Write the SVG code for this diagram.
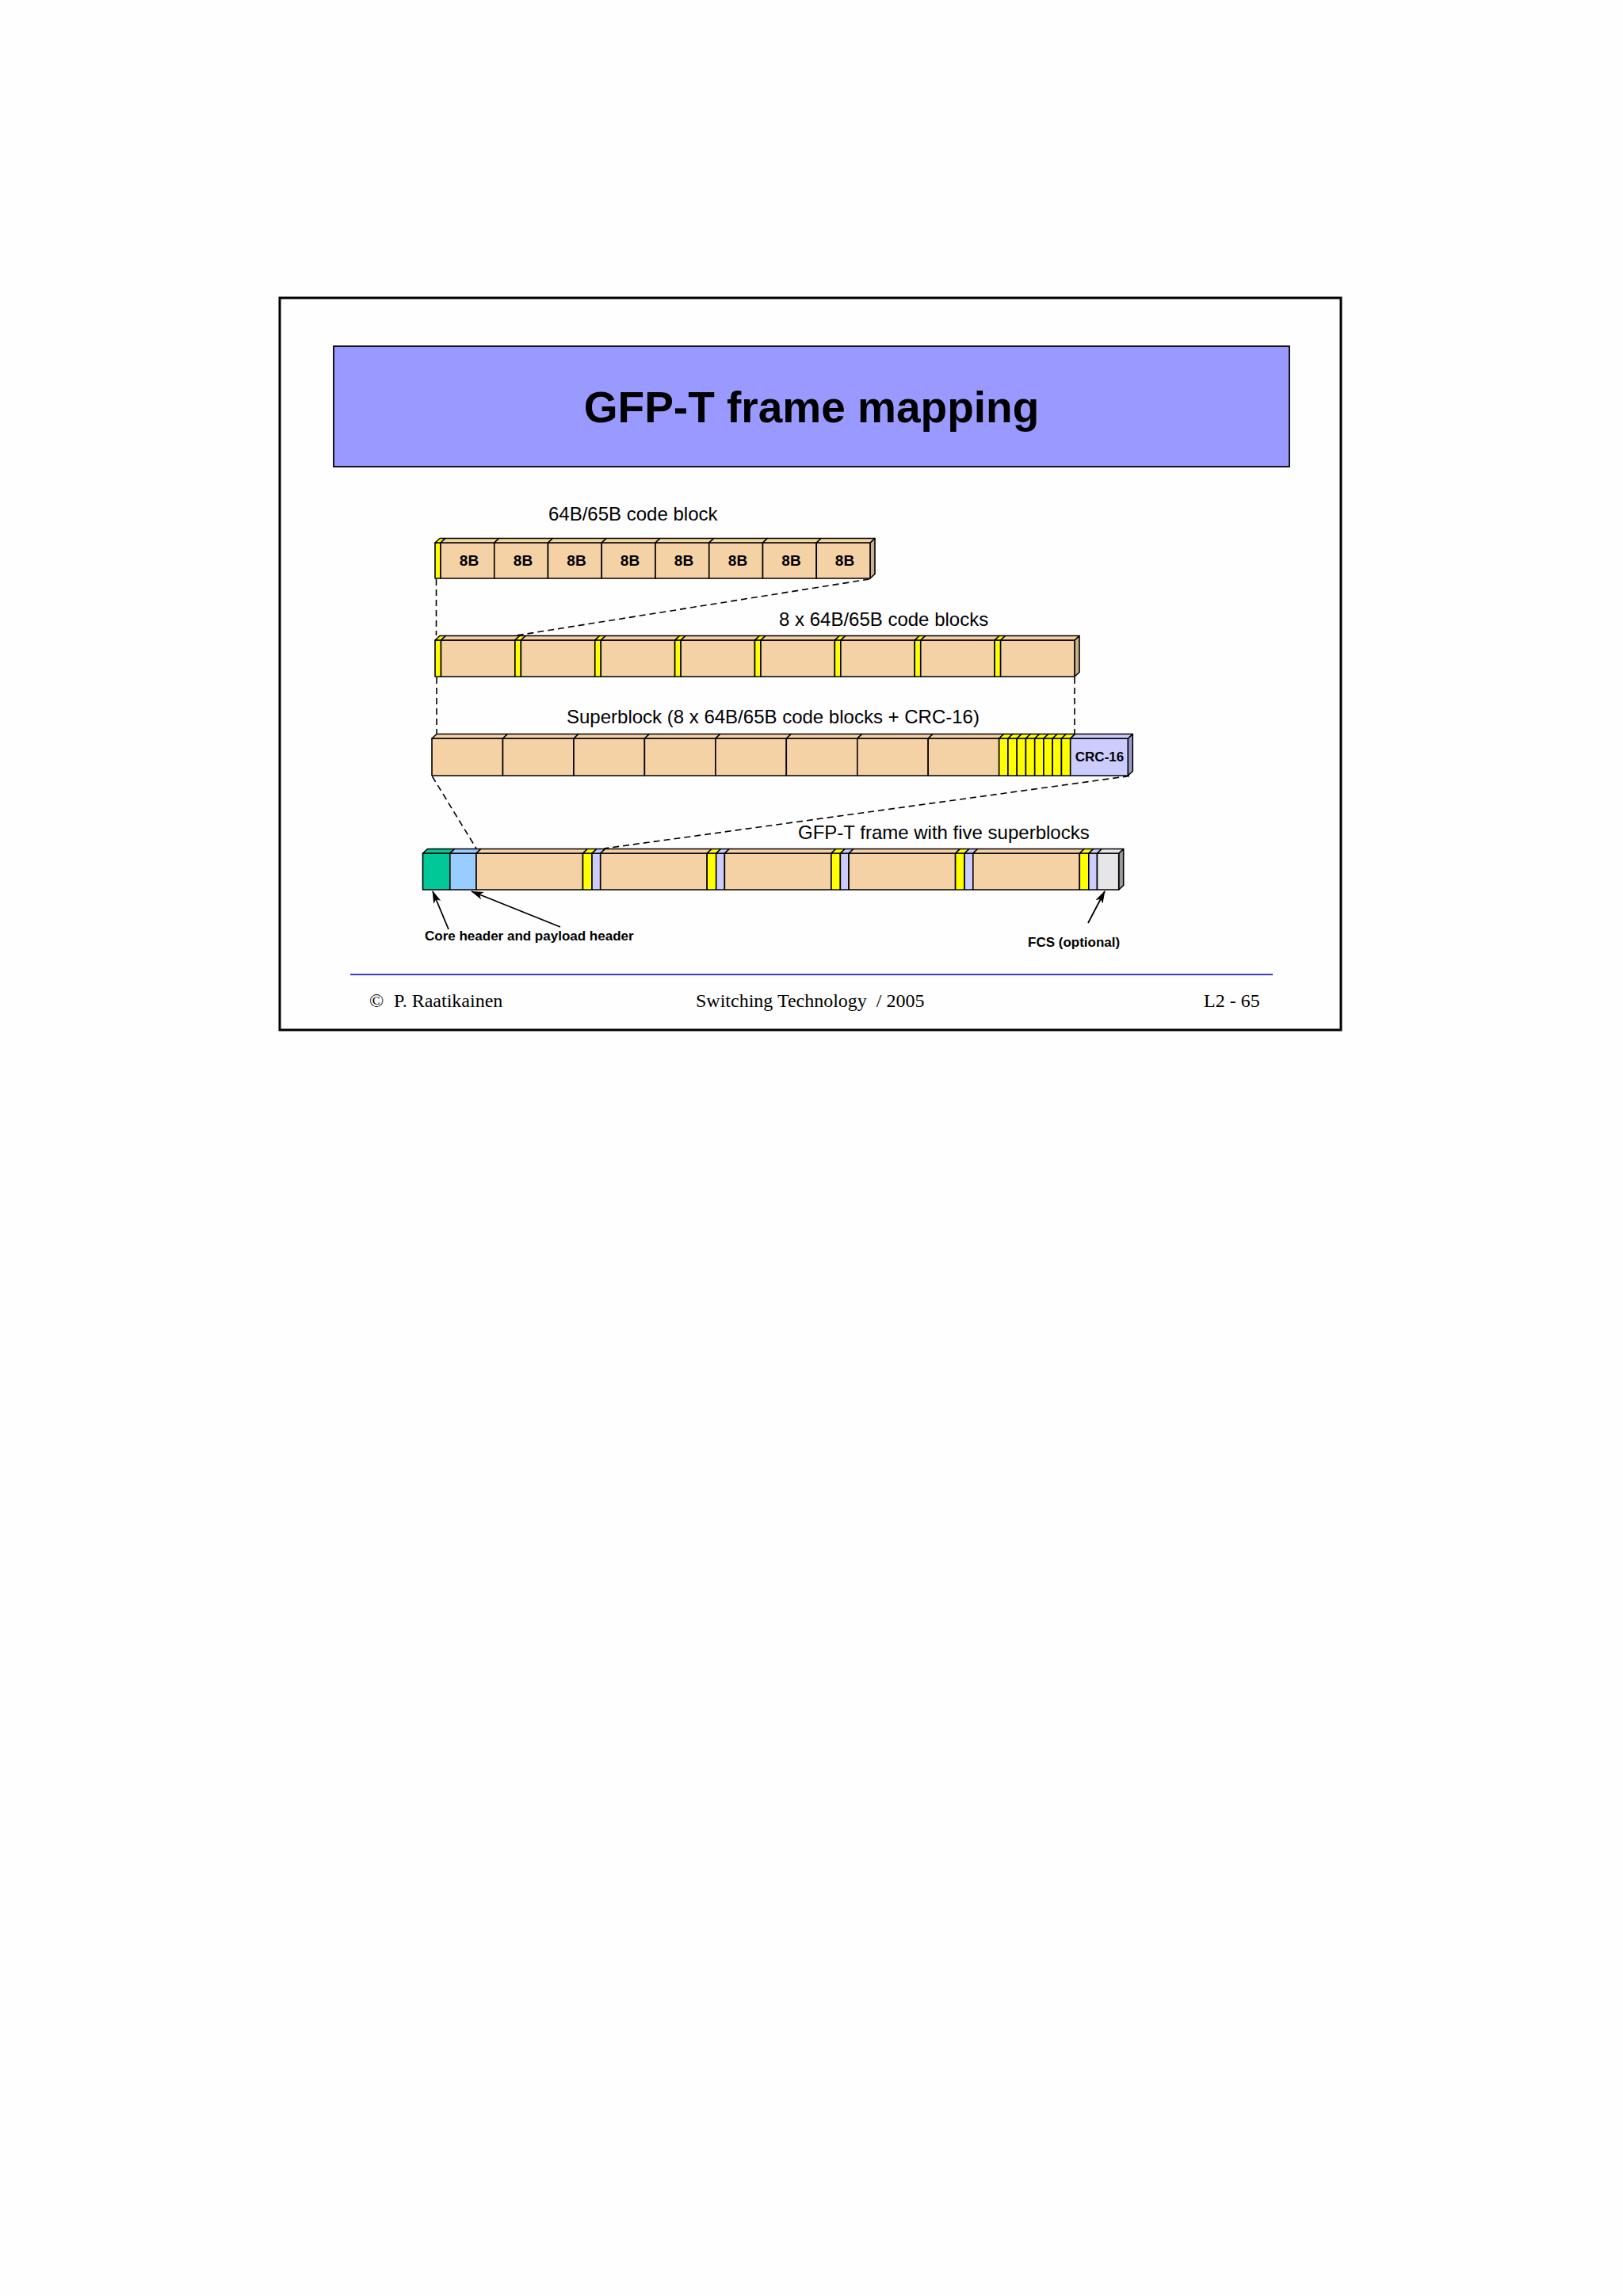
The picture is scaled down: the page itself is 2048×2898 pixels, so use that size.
<svg xmlns="http://www.w3.org/2000/svg" width="2048" height="2898" viewBox="0 0 2048 2898">
<style>
.s{stroke:#000;stroke-width:1.6;stroke-linejoin:round}
.tan{fill:#F4D2A5}
.tanr{fill:#CBB28A}
.yel{fill:#FFFF00}
.lav{fill:#CCCCFF}
.lavr{fill:#9C9CCC}
.grn{fill:#00C896}
.blu{fill:#99CCFF}
.fcs{fill:#E6E6E8}
.fcsr{fill:#9A9A9A}
.lbl{font-family:"Liberation Sans",Arial,sans-serif;font-size:24px;fill:#000}
.bl{font-family:"Liberation Sans",Arial,sans-serif;font-size:17px;font-weight:bold;fill:#000}
.b8{font-family:"Liberation Sans",Arial,sans-serif;font-size:19px;font-weight:bold;fill:#000}
.ft{font-family:"Liberation Serif","Times New Roman",serif;font-size:24px;fill:#000}
.dash{stroke:#000;stroke-width:1.6;stroke-dasharray:8 5;fill:none}
.arr{stroke:#000;stroke-width:1.8;fill:none;marker-end:url(#ah)}
</style>
<defs>
<marker id="ah" markerUnits="userSpaceOnUse" markerWidth="16" markerHeight="10" viewBox="0 0 16 10" refX="15" refY="5" orient="auto">
<path d="M0,0 L16,5 L0,10 L4,5 z" fill="#000"/>
</marker>
</defs>
<rect width="2048" height="2898" fill="#FEFEFE"/>
<rect id="frame" x="353" y="376" width="1339" height="924" fill="none" stroke="#000" stroke-width="3"/>
<g id="title">
<rect x="421" y="437" width="1206" height="152" fill="#9999FF" stroke="#000" stroke-width="1.8"/>
<text x="1024" y="533" text-anchor="middle" font-family="Liberation Sans,Arial,sans-serif" font-weight="bold" font-size="55">GFP-T frame mapping</text>
</g>

<!-- Row 1 -->
<g id="row1">
<text class="lbl" x="692" y="657">64B/65B code block</text>
<g class="s">
<polygon class="tanr" points="1098,685 1104,679.5 1104,724.5 1098,730"/>
<rect class="yel" x="549" y="685" width="7" height="45"/><polygon class="yel" points="549,685 555,679.5 562,679.5 556,685"/>
<rect class="tan" x="556" y="685" width="67.75" height="45"/><polygon class="tan" points="556,685 562,679.5 629.75,679.5 623.75,685"/>
<rect class="tan" x="623.75" y="685" width="67.75" height="45"/><polygon class="tan" points="623.75,685 629.75,679.5 697.5,679.5 691.5,685"/>
<rect class="tan" x="691.5" y="685" width="67.75" height="45"/><polygon class="tan" points="691.5,685 697.5,679.5 765.25,679.5 759.25,685"/>
<rect class="tan" x="759.25" y="685" width="67.75" height="45"/><polygon class="tan" points="759.25,685 765.25,679.5 833,679.5 827,685"/>
<rect class="tan" x="827" y="685" width="67.75" height="45"/><polygon class="tan" points="827,685 833,679.5 900.75,679.5 894.75,685"/>
<rect class="tan" x="894.75" y="685" width="67.75" height="45"/><polygon class="tan" points="894.75,685 900.75,679.5 968.5,679.5 962.5,685"/>
<rect class="tan" x="962.5" y="685" width="67.75" height="45"/><polygon class="tan" points="962.5,685 968.5,679.5 1036.25,679.5 1030.25,685"/>
<rect class="tan" x="1030.25" y="685" width="67.75" height="45"/><polygon class="tan" points="1030.25,685 1036.25,679.5 1104,679.5 1098,685"/>
</g>
<g class="b8" text-anchor="middle">
<text x="592" y="714">8B</text>
<text x="660" y="714">8B</text>
<text x="727.5" y="714">8B</text>
<text x="795" y="714">8B</text>
<text x="863" y="714">8B</text>
<text x="931" y="714">8B</text>
<text x="998.5" y="714">8B</text>
<text x="1066" y="714">8B</text>
</g>
</g>

<!-- Row 2 -->
<g id="row2">
<text class="lbl" x="983" y="790">8 x 64B/65B code blocks</text>
<g class="s">
<polygon class="tanr" points="1356,808 1362,802.5 1362,848.5 1356,854"/>
<rect class="yel" x="549" y="808" width="7.5" height="46"/><polygon class="yel" points="549,808 555,802.5 562.5,802.5 556.5,808"/>
<rect class="tan" x="556.5" y="808" width="93.375" height="46"/><polygon class="tan" points="556.5,808 562.5,802.5 655.875,802.5 649.875,808"/>
<rect class="yel" x="649.875" y="808" width="7.5" height="46"/><polygon class="yel" points="649.875,808 655.875,802.5 663.375,802.5 657.375,808"/>
<rect class="tan" x="657.375" y="808" width="93.375" height="46"/><polygon class="tan" points="657.375,808 663.375,802.5 756.75,802.5 750.75,808"/>
<rect class="yel" x="750.75" y="808" width="7.5" height="46"/><polygon class="yel" points="750.75,808 756.75,802.5 764.25,802.5 758.25,808"/>
<rect class="tan" x="758.25" y="808" width="93.375" height="46"/><polygon class="tan" points="758.25,808 764.25,802.5 857.625,802.5 851.625,808"/>
<rect class="yel" x="851.625" y="808" width="7.5" height="46"/><polygon class="yel" points="851.625,808 857.625,802.5 865.125,802.5 859.125,808"/>
<rect class="tan" x="859.125" y="808" width="93.375" height="46"/><polygon class="tan" points="859.125,808 865.125,802.5 958.5,802.5 952.5,808"/>
<rect class="yel" x="952.5" y="808" width="7.5" height="46"/><polygon class="yel" points="952.5,808 958.5,802.5 966,802.5 960,808"/>
<rect class="tan" x="960" y="808" width="93.375" height="46"/><polygon class="tan" points="960,808 966,802.5 1059.375,802.5 1053.375,808"/>
<rect class="yel" x="1053.375" y="808" width="7.5" height="46"/><polygon class="yel" points="1053.375,808 1059.375,802.5 1066.875,802.5 1060.875,808"/>
<rect class="tan" x="1060.875" y="808" width="93.375" height="46"/><polygon class="tan" points="1060.875,808 1066.875,802.5 1160.25,802.5 1154.25,808"/>
<rect class="yel" x="1154.25" y="808" width="7.5" height="46"/><polygon class="yel" points="1154.25,808 1160.25,802.5 1167.75,802.5 1161.75,808"/>
<rect class="tan" x="1161.75" y="808" width="93.375" height="46"/><polygon class="tan" points="1161.75,808 1167.75,802.5 1261.125,802.5 1255.125,808"/>
<rect class="yel" x="1255.125" y="808" width="7.5" height="46"/><polygon class="yel" points="1255.125,808 1261.125,802.5 1268.625,802.5 1262.625,808"/>
<rect class="tan" x="1262.625" y="808" width="93.375" height="46"/><polygon class="tan" points="1262.625,808 1268.625,802.5 1362,802.5 1356,808"/>
</g>
</g>

<!-- Row 3 -->
<g id="row3">
<text class="lbl" x="715" y="913">Superblock (8 x 64B/65B code blocks + CRC-16)</text>
<g class="s">
<polygon class="lavr" points="1423.3,932 1429.3,926.5 1429.3,973.5 1423.3,979"/>
<rect class="tan" x="545" y="932" width="89.5" height="47"/><polygon class="tan" points="545,932 551,926.5 640.5,926.5 634.5,932"/>
<rect class="tan" x="634.5" y="932" width="89.5" height="47"/><polygon class="tan" points="634.5,932 640.5,926.5 730,926.5 724,932"/>
<rect class="tan" x="724" y="932" width="89.4" height="47"/><polygon class="tan" points="724,932 730,926.5 819.4,926.5 813.4,932"/>
<rect class="tan" x="813.4" y="932" width="89.5" height="47"/><polygon class="tan" points="813.4,932 819.4,926.5 908.9,926.5 902.9,932"/>
<rect class="tan" x="902.9" y="932" width="89.4" height="47"/><polygon class="tan" points="902.9,932 908.9,926.5 998.3,926.5 992.3,932"/>
<rect class="tan" x="992.3" y="932" width="89.5" height="47"/><polygon class="tan" points="992.3,932 998.3,926.5 1087.8,926.5 1081.8,932"/>
<rect class="tan" x="1081.8" y="932" width="89.4" height="47"/><polygon class="tan" points="1081.8,932 1087.8,926.5 1177.2,926.5 1171.2,932"/>
<rect class="tan" x="1171.2" y="932" width="89.5" height="47"/><polygon class="tan" points="1171.2,932 1177.2,926.5 1266.7,926.5 1260.7,932"/>
<rect class="yel" x="1260.7" y="932" width="11.25" height="47"/><polygon class="yel" points="1260.7,932 1266.7,926.5 1277.95,926.5 1271.95,932"/>
<rect class="yel" x="1271.95" y="932" width="11.25" height="47"/><polygon class="yel" points="1271.95,932 1277.95,926.5 1289.2,926.5 1283.2,932"/>
<rect class="yel" x="1283.2" y="932" width="11.25" height="47"/><polygon class="yel" points="1283.2,932 1289.2,926.5 1300.45,926.5 1294.45,932"/>
<rect class="yel" x="1294.45" y="932" width="11.25" height="47"/><polygon class="yel" points="1294.45,932 1300.45,926.5 1311.7,926.5 1305.7,932"/>
<rect class="yel" x="1305.7" y="932" width="11.25" height="47"/><polygon class="yel" points="1305.7,932 1311.7,926.5 1322.95,926.5 1316.95,932"/>
<rect class="yel" x="1316.95" y="932" width="11.25" height="47"/><polygon class="yel" points="1316.95,932 1322.95,926.5 1334.2,926.5 1328.2,932"/>
<rect class="yel" x="1328.2" y="932" width="11.25" height="47"/><polygon class="yel" points="1328.2,932 1334.2,926.5 1345.45,926.5 1339.45,932"/>
<rect class="yel" x="1339.45" y="932" width="11.25" height="47"/><polygon class="yel" points="1339.45,932 1345.45,926.5 1356.7,926.5 1350.7,932"/>
<rect class="lav" x="1350.7" y="932" width="72.6" height="47"/><polygon class="lav" points="1350.7,932 1356.7,926.5 1429.3,926.5 1423.3,932"/>
</g>
<text class="bl" x="1387.5" y="961" text-anchor="middle">CRC-16</text>
</g>

<!-- Row 4 -->
<g id="row4">
<text class="lbl" x="1007" y="1059">GFP-T frame with five superblocks</text>
<g class="s">
<polygon class="fcsr" points="1411.7,1077 1417.7,1071.5 1417.7,1117.5 1411.7,1123"/>
<rect class="grn" x="533.5" y="1077" width="34.3" height="46"/><polygon class="grn" points="533.5,1077 539.5,1071.5 573.8,1071.5 567.8,1077"/>
<rect class="blu" x="567.8" y="1077" width="33.2" height="46"/><polygon class="blu" points="567.8,1077 573.8,1071.5 607,1071.5 601,1077"/>
<rect class="tan" x="601" y="1077" width="134.5" height="46"/><polygon class="tan" points="601,1077 607,1071.5 741.5,1071.5 735.5,1077"/>
<rect class="yel" x="735.5" y="1077" width="11.5" height="46"/><polygon class="yel" points="735.5,1077 741.5,1071.5 753,1071.5 747,1077"/>
<rect class="lav" x="747" y="1077" width="10.7" height="46"/><polygon class="lav" points="747,1077 753,1071.5 763.7,1071.5 757.7,1077"/>
<rect class="tan" x="757.7" y="1077" width="134.5" height="46"/><polygon class="tan" points="757.7,1077 763.7,1071.5 898.2,1071.5 892.2,1077"/>
<rect class="yel" x="892.2" y="1077" width="11.5" height="46"/><polygon class="yel" points="892.2,1077 898.2,1071.5 909.7,1071.5 903.7,1077"/>
<rect class="lav" x="903.7" y="1077" width="10.7" height="46"/><polygon class="lav" points="903.7,1077 909.7,1071.5 920.4,1071.5 914.4,1077"/>
<rect class="tan" x="914.4" y="1077" width="134.5" height="46"/><polygon class="tan" points="914.4,1077 920.4,1071.5 1054.9,1071.5 1048.9,1077"/>
<rect class="yel" x="1048.9" y="1077" width="11.5" height="46"/><polygon class="yel" points="1048.9,1077 1054.9,1071.5 1066.4,1071.5 1060.4,1077"/>
<rect class="lav" x="1060.4" y="1077" width="10.7" height="46"/><polygon class="lav" points="1060.4,1077 1066.4,1071.5 1077.1,1071.5 1071.1,1077"/>
<rect class="tan" x="1071.1" y="1077" width="134.5" height="46"/><polygon class="tan" points="1071.1,1077 1077.1,1071.5 1211.6,1071.5 1205.6,1077"/>
<rect class="yel" x="1205.6" y="1077" width="11.5" height="46"/><polygon class="yel" points="1205.6,1077 1211.6,1071.5 1223.1,1071.5 1217.1,1077"/>
<rect class="lav" x="1217.1" y="1077" width="10.7" height="46"/><polygon class="lav" points="1217.1,1077 1223.1,1071.5 1233.8,1071.5 1227.8,1077"/>
<rect class="tan" x="1227.8" y="1077" width="134.5" height="46"/><polygon class="tan" points="1227.8,1077 1233.8,1071.5 1368.3,1071.5 1362.3,1077"/>
<rect class="yel" x="1362.3" y="1077" width="11.5" height="46"/><polygon class="yel" points="1362.3,1077 1368.3,1071.5 1379.8,1071.5 1373.8,1077"/>
<rect class="lav" x="1373.8" y="1077" width="10.7" height="46"/><polygon class="lav" points="1373.8,1077 1379.8,1071.5 1390.5,1071.5 1384.5,1077"/>
<rect class="fcs" x="1384.5" y="1077" width="27.2" height="46"/><polygon class="fcs" points="1384.5,1077 1390.5,1071.5 1417.7,1071.5 1411.7,1077"/>
</g>
</g>

<g id="label-headers"><text class="bl" x="536" y="1187">Core header and payload header</text></g>
<g id="label-fcs"><text class="bl" x="1297" y="1195">FCS (optional)</text></g>

<g id="connectors">
<line class="dash" x1="550.5" y1="731" x2="550.5" y2="802"/>
<line class="dash" x1="1097" y1="731" x2="652" y2="802"/>
<line class="dash" x1="551" y1="855" x2="551" y2="926"/>
<line class="dash" x1="1356" y1="855" x2="1356" y2="926"/>
<line class="dash" x1="545.5" y1="980" x2="601" y2="1071"/>
<line class="dash" x1="1425" y1="979.5" x2="762" y2="1071"/>
<line class="arr" x1="566" y1="1173" x2="546" y2="1125"/>
<line class="arr" x1="707" y1="1170" x2="595" y2="1125"/>
<line class="arr" x1="1373" y1="1165" x2="1394" y2="1125"/>
</g>

<g id="footer">
<line x1="442" y1="1230" x2="1606" y2="1230" stroke="#3A3AC4" stroke-width="2"/>
<text class="ft" x="466" y="1271">©</text>
<text class="ft" x="497" y="1271">P. Raatikainen</text>
<text class="ft" x="878" y="1271" xml:space="preserve">Switching Technology  / 2005</text>
<text class="ft" x="1519" y="1271">L2 - 65</text>
</g>
</svg>
